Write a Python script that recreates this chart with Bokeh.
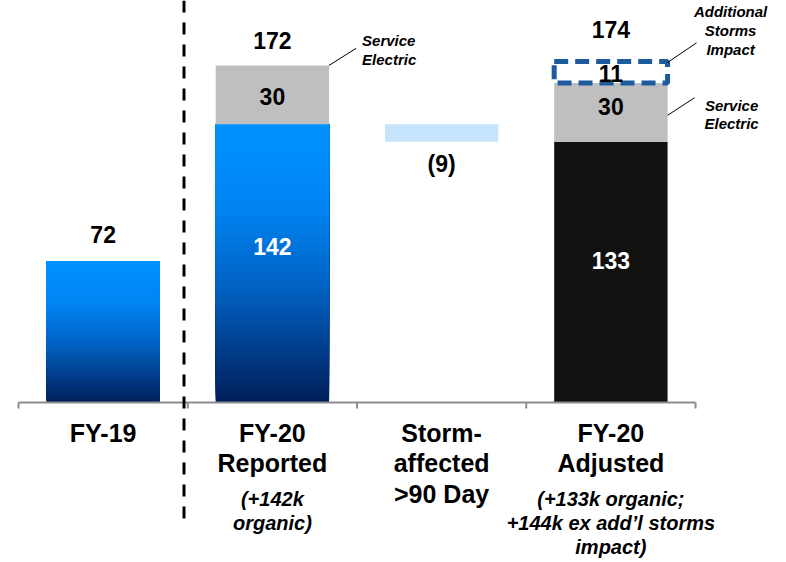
from bokeh.plotting import figure
from bokeh.models import Range1d, ColumnDataSource
from bokeh.core.properties import value
from bokeh.embed import file_html
from bokeh.resources import INLINE

# ---- data -----------------------------------------------------------------
categories = ["FY-19", "FY-20 Reported", "Storm-affected >90 Day", "FY-20 Adjusted"]
header_lines = [["FY-19"], ["FY-20", "Reported"], ["Storm-", "affected", ">90 Day"], ["FY-20", "Adjusted"]]
note_lines = [[], ["(+142k", "organic)"], [], ["(+133k organic;", "+144k ex add\u2019l storms", "impact)"]]

fy19_total = 72
reported_organic = 142
reported_service_electric = 30
reported_total = 172
storm_affected_change = -9
adjusted_organic = 133
adjusted_service_electric = 30
additional_storms_impact = 11
adjusted_total = 174

# ---- geometry / styling ---------------------------------------------------
W, H = 786, 562
BASE_PX = 402          # pixel row of the zero line
PX_Y = 1.96            # pixels per unit
PX_X = 169.25          # pixels per category
LEFT_PX = 18
BAR_W = 0.67
FONT = value("Liberation Sans")

BLUE_STOPS = [(0.0, (0, 146, 255)), (0.3, (0, 132, 242)), (0.6, (0, 96, 192)), (1.0, (0, 30, 90))]
GRAY = "#BFBFBF"
BLACK = "#111111"
LIGHT_BLUE = "#C6E4FB"
BOX_BLUE = "#1E5B9C"


def blend(t):
    for (t0, c0), (t1, c1) in zip(BLUE_STOPS[:-1], BLUE_STOPS[1:]):
        if t <= t1:
            f = (t - t0) / (t1 - t0)
            r, g, b = (round(a + (bb - a) * f) for a, bb in zip(c0, c1))
            return "#%02x%02x%02x" % (r, g, b)
    return "#%02x%02x%02x" % BLUE_STOPS[-1][1]


p = figure(
    width=W, height=H,
    x_range=Range1d(-LEFT_PX / PX_X, (W - LEFT_PX) / PX_X),
    y_range=Range1d(-(H - BASE_PX) / PX_Y, BASE_PX / PX_Y),
    x_axis_type=None, y_axis_type=None,
    toolbar_location=None, output_backend="svg",
    min_border=0, outline_line_color=None,
    background_fill_color="white", border_fill_color="white",
)

# ---- gradient-filled blue bars (FY-19 and FY-20 reported organic) ----------
# each band runs from its own floor up to the bar's top, drawn bottom-up so
# later bands cover earlier ones without seams
N = 90
gx, gb, gt, gc = [], [], [], []
for xc, val in [(0.5, fy19_total), (1.5, reported_organic)]:
    for k in range(N):
        gx.append(xc)
        gb.append(val * k / N)
        gt.append(val)
        gc.append(blend(1 - (k + 0.5) / N))
grad = ColumnDataSource(dict(x=gx, bottom=gb, top=gt, color=gc))
p.vbar(x="x", bottom="bottom", top="top", width=BAR_W, fill_color="color",
       line_color=None, source=grad)

# ---- stacked / floating segments ------------------------------------------
p.vbar(x=[1.5], bottom=[reported_organic], top=[reported_organic + reported_service_electric],
       width=BAR_W, fill_color=GRAY, line_color=None)
p.vbar(x=[2.5], bottom=[reported_organic + storm_affected_change], top=[reported_organic],
       width=BAR_W, fill_color=LIGHT_BLUE, line_color=None)
p.vbar(x=[3.5], bottom=[0], top=[adjusted_organic], width=BAR_W, fill_color=BLACK, line_color=None)
p.vbar(x=[3.5], bottom=[adjusted_organic], top=[adjusted_organic + adjusted_service_electric],
       width=BAR_W, fill_color=GRAY, line_color=None)
box_bottom = adjusted_organic + adjusted_service_electric
p.vbar(x=[3.5], bottom=[box_bottom], top=[box_bottom + additional_storms_impact],
       width=BAR_W, fill_color=None, line_color=BOX_BLUE, line_width=5, line_dash="14 7")

# ---- baseline with category boundary ticks --------------------------------
p.segment(x0=[0], y0=[0], x1=[4], y1=[0], line_color="#8C8C8C", line_width=2)
tick_len = 6 / PX_Y
p.segment(x0=[0, 1, 2, 3, 4], y0=[0] * 5, x1=[0, 1, 2, 3, 4], y1=[-tick_len] * 5,
          line_color="#8C8C8C", line_width=2)

# dashed separator between FY-19 and FY-20
sep_x = (183.5 - LEFT_PX) / PX_X
p.segment(x0=[sep_x], y0=[BASE_PX / PX_Y], x1=[sep_x], y1=[-(528 - BASE_PX) / PX_Y],
          line_color="black", line_width=3, line_dash="12 10")

# ---- value labels ----------------------------------------------------------
vals = ColumnDataSource(dict(
    x=[0.5, 1.5, 3.5, 1.5, 1.5, 2.5, 3.5, 3.5, 3.5],
    y=[fy19_total, reported_total, adjusted_total,
       reported_organic / 2, reported_organic + reported_service_electric / 2,
       reported_organic + storm_affected_change,
       adjusted_organic / 2, adjusted_organic + adjusted_service_electric / 2,
       box_bottom + additional_storms_impact / 2],
    text=[str(fy19_total), str(reported_total), str(adjusted_total),
          str(reported_organic), str(reported_service_electric),
          "(%d)" % abs(storm_affected_change),
          str(adjusted_organic), str(adjusted_service_electric), str(additional_storms_impact)],
    dy=[-26.5, -24.5, -31.5, -16.5, 2, 22.5, -11.5, -5.5, 1.5],
    color=["black", "black", "black", "white", "black", "black", "white", "black", "black"],
))
p.text(x="x", y="y", text="text", y_offset="dy", text_color="color", source=vals,
       text_font=FONT, text_font_style="bold", text_font_size="23px",
       text_align="center", text_baseline="alphabetic")

# ---- category labels below the axis ---------------------------------------
hx, hdy, ht = [], [], []
for i, lines in enumerate(header_lines):
    for j, line in enumerate(lines):
        hx.append(i + 0.5)
        hdy.append(30 + 30.5 * j)
        ht.append(line)
p.text(x=hx, y=[0] * len(hx), text=ht, y_offset=hdy, text_font=FONT,
       text_font_style="bold", text_font_size="25px", text_align="center",
       text_baseline="alphabetic", text_color="black")

nx, ndy, nt = [], [], []
for i, lines in enumerate(note_lines):
    for j, line in enumerate(lines):
        nx.append(i + 0.5)
        ndy.append(96 + 24 * j)
        nt.append(line)
p.text(x=nx, y=[0] * len(nx), text=nt, y_offset=ndy, text_font=FONT,
       text_font_style="bold italic", text_font_size="20px", text_align="center",
       text_baseline="alphabetic", text_color="black")

# ---- callouts ---------------------------------------------------------------
right_edge_rep = 1.5 + BAR_W / 2
right_edge_adj = 3.5 + BAR_W / 2
p.text(x=[right_edge_rep] * 2, y=[reported_total] * 2, text=["Service", "Electric"],
       x_offset=[33, 33], y_offset=[-24.5, -5.5], text_font=FONT, text_font_style="bold italic",
       text_font_size="15px", text_align="left", text_baseline="alphabetic")
p.segment(x0=[right_edge_rep], y0=[reported_total],
          x1=[right_edge_rep + 27 / PX_X], y1=[reported_total + 17 / PX_Y],
          line_color="black", line_width=1)

p.text(x=[right_edge_adj] * 3, y=[adjusted_total] * 3, text=["Additional", "Storms", "Impact"],
       x_offset=[63] * 3, y_offset=[-49.5, -30.5, -11.5], text_font=FONT, text_font_style="bold italic",
       text_font_size="15px", text_align="center", text_baseline="alphabetic")
p.segment(x0=[right_edge_adj], y0=[adjusted_total - 0.5],
          x1=[right_edge_adj + 29 / PX_X], y1=[adjusted_total + 9.5],
          line_color="black", line_width=1)

p.text(x=[right_edge_adj] * 2, y=[box_bottom] * 2, text=["Service", "Electric"],
       x_offset=[64] * 2, y_offset=[22, 40], text_font=FONT, text_font_style="bold italic",
       text_font_size="15px", text_align="center", text_baseline="alphabetic")
p.segment(x0=[right_edge_adj], y0=[box_bottom - 16.5],
          x1=[right_edge_adj + 27 / PX_X], y1=[box_bottom - 7.5],
          line_color="black", line_width=1)

open("out.html", "w").write(file_html(p, INLINE))
